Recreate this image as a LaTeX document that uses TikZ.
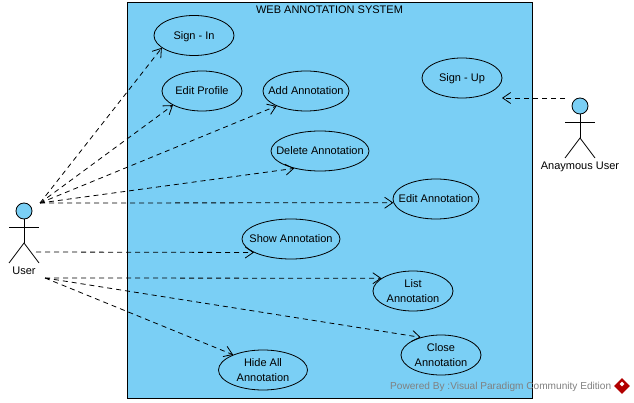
\documentclass[tikz,border=0pt]{standalone}
\usepackage{fontspec}
\setmainfont{Liberation Sans}
\usetikzlibrary{shapes.geometric,arrows.meta}
\definecolor{usecasefill}{RGB}{122,207,245}
\tikzset{
	usecase/.style={draw,thick,ellipse,inner xsep=-20pt,inner ysep=0pt,align=center,font=\fontsize{11}{15}\selectfont},
	actorlabel/.style={font=\fontsize{11}{13}\selectfont},
	dep/.style={thick,dash pattern=on 5pt off 4pt,-{Straight Barb[length=8pt,width=11pt]}},
	stick/.style={thick}
}
\begin{document}
\begin{tikzpicture}[x=1pt,y=-1pt]
	\useasboundingbox (0,0) rectangle (634,403);
	% draw system boundary
	\node[draw,thick,fill=usecasefill,minimum width=405pt,minimum height=396pt,inner sep=0pt] (system) at (329.5,200) {};
	\node[actorlabel,anchor=base] (systemtitle) at (329.5,14) {WEB ANNOTATION SYSTEM};
	% draw use cases
	\foreach \name/\x/\y/\w/\txt in {
		signin/194/35.5/80/{Sign - In},
		editprofile/202/91/80/{Edit Profile},
		addann/306/91/86/{Add Annotation},
		delann/320/151/98/{Delete Annotation},
		signup/462/78/80/{Sign - Up},
		editann/436/199/86/{Edit Annotation},
		showann/291/239/98/{Show Annotation},
		listann/413/291/80/{List\\Annotation},
		closeann/441/355/80/{Close\\Annotation},
		hideann/263/370/89/{Hide All\\Annotation}}
	\node[usecase,minimum width=\w pt,minimum height=40pt,text depth=-2pt] (\name) at (\x,\y) {\txt};
	% draw actors
	\foreach \name/\x/\y/\txt in {user/24/211/User,anon/580/106/Anaymous User} {
		\node[draw,thick,circle,fill=usecasefill,minimum size=16pt,inner sep=0pt] (\name head) at (\x,\y) {};
		\coordinate (\name neck) at (\x,\y+16);
		\coordinate (\name hip) at (\x,\y+32);
		\draw[stick] (\name head) -- (\name hip);
		\draw[stick] (\x-15,\y+16) -- (\x+15,\y+16);
		\draw[stick] (\x-15,\y+52) -- (\name hip) -- (\x+15,\y+52);
		\node[actorlabel,anchor=base] (\name label) at (\x,\y+64) {\txt};
	}
	% draw dependencies
	\coordinate (userhigh) at (40,203);
	\coordinate (usermid) at (36,252);
	\coordinate (userlow) at (45,278);
	\coordinate (anonstart) at (565,98);
	\coordinate (signupend) at (502,98);
	\foreach \target/\ang in {signin/201,editprofile/206,addann/207,delann/214,editann/185}
	\draw[dep] (userhigh) -- (\target.\ang);
	\draw[dep] (usermid) -- (showann.200);
	\foreach \target/\ang in {listann/158,closeann/139,hideann/153}
	\draw[dep] (userlow) -- (\target.\ang);
	\draw[dep] (anonstart) -- (signupend);
	% draw watermark
	\node[anchor=west,inner sep=0pt,text=black!50,font=\fontsize{10.1}{12}\selectfont] (powered) at (390,386.5) {Powered By :Visual Paradigm Community Edition};
	\node[diamond,fill=red!70!black,minimum size=16pt,inner sep=0pt] (logo) at (622,386) {};
	\node[diamond,fill=white,minimum size=5pt,inner sep=0pt] (logoinner) at (622,384) {};
\end{tikzpicture}
\end{document}
